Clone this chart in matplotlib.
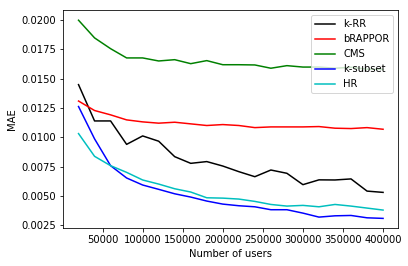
import matplotlib
matplotlib.use("Agg")
import matplotlib.pyplot as plt

users = [20000, 40000, 60000, 80000, 100000, 120000, 140000, 160000, 180000, 200000,
         220000, 240000, 260000, 280000, 300000, 320000, 340000, 360000, 380000, 400000]

krr = [0.0145, 0.01140, 0.01140, 0.00940, 0.01012, 0.00967, 0.00835, 0.00778, 0.00793, 0.00755,
       0.00707, 0.00664, 0.00721, 0.00693, 0.00596, 0.00637, 0.00636, 0.00645, 0.00541, 0.00530]
brappor = [0.0131, 0.01229, 0.01192, 0.01149, 0.01132, 0.01121, 0.01129, 0.01115, 0.01101, 0.01109,
           0.01101, 0.01083, 0.01089, 0.01089, 0.01089, 0.01092, 0.01078, 0.01075, 0.01083, 0.01069]
cms = [0.0200, 0.01849, 0.01757, 0.01678, 0.01678, 0.01652, 0.01663, 0.01629, 0.01655, 0.01620,
       0.01620, 0.01618, 0.01590, 0.01612, 0.01600, 0.01600, 0.01590, 0.01598, 0.01582, 0.01580]
ksubset = [0.01263, 0.00987, 0.00758, 0.00653, 0.00593, 0.00556, 0.00518, 0.00490, 0.00456, 0.00430,
           0.00416, 0.00407, 0.00382, 0.00382, 0.00353, 0.00319, 0.00330, 0.00333, 0.00313, 0.00308]
hr = [0.01032, 0.00838, 0.00758, 0.00701, 0.00636, 0.00601, 0.00561, 0.00533, 0.00484, 0.00481,
      0.00473, 0.00453, 0.00427, 0.00413, 0.00419, 0.00407, 0.00427, 0.00413, 0.00396, 0.00379]

series = [("k-RR", krr, "k"), ("bRAPPOR", brappor, "r"), ("CMS", cms, "g"),
          ("k-subset", ksubset, "b"), ("HR", hr, "c")]

fig = plt.figure(figsize=(408/72, 266/72), dpi=72)
ax = fig.add_axes([63.3/408, 1-228.3/266, (398.3-63.3)/408, (228.3-10.3)/266])
for name, vals, col in series:
    ax.plot(users, vals, color=col, label=name)
ax.set_xlabel("Number of users")
ax.set_ylabel("MAE")
ax.set_yticks([0.0025, 0.0050, 0.0075, 0.0100, 0.0125, 0.0150, 0.0175, 0.0200])
ax.set_xticks([50000, 100000, 150000, 200000, 250000, 300000, 350000, 400000])
ax.legend(loc="upper right")
fig.savefig("out.png", dpi=72)
